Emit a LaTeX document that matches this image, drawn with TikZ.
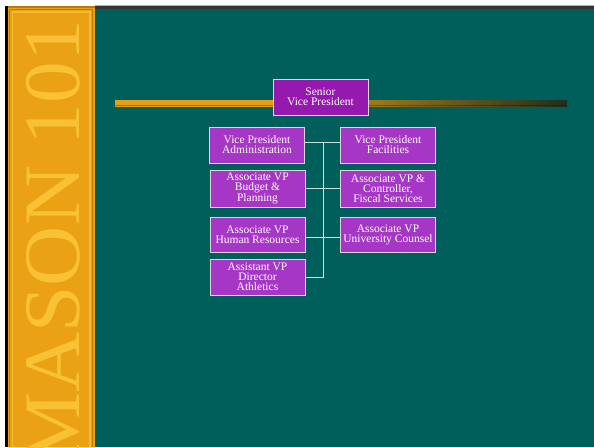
\documentclass[tikz,border=0pt]{standalone}
\usepackage{fontspec}
\setmainfont{Liberation Serif}
\usepackage{graphicx}
\definecolor{teal0}{HTML}{005F5B}
\definecolor{gold0}{HTML}{EAA214}
\definecolor{golddark}{HTML}{B97C0C}
\definecolor{goldlight}{HTML}{F6BA3A}
\definecolor{goldtext}{HTML}{F8C234}
\definecolor{barleft}{HTML}{E69E12}
\definecolor{barright}{HTML}{1F2E1E}
\definecolor{boxfill}{HTML}{A636C6}
\definecolor{seniorfill}{HTML}{9519AE}
\definecolor{boxedge}{HTML}{D8D8D8}
\definecolor{connline}{HTML}{C4E4DC}
\pgfdeclarehorizontalshading{barshade}{100bp}{color(0bp)=(barleft); color(25bp)=(barleft); color(42bp)=(barleft); color(75bp)=(barright); color(100bp)=(barright)}
\tikzset{
  orgbox/.style={draw=boxedge, line width=0.7pt, fill=boxfill, text=white,
    minimum width=95pt, minimum height=36pt, inner sep=1pt, align=center,
    font=\fontsize{11.5}{10}\selectfont},
  seniorbox/.style={orgbox, fill=seniorfill},
  conn/.style={draw=connline, line width=0.7pt}
}
\begin{document}
\begin{tikzpicture}[x=1pt,y=-1pt]
\useasboundingbox (0,0) rectangle (594,447);
% background
\fill[white] (0,0) rectangle (594,447);
\fill[teal0] (7,7) rectangle (594,447);
\fill[gray!60] (95,5) rectangle (594,6.2);
\fill[black!80] (95,6.2) rectangle (594,8.6);
% gold strip
\fill[black] (5,6) rectangle (7.5,447);
\fill[gold0] (7.5,6) rectangle (95,447);
\fill[golddark] (7.5,6) rectangle (95,7.5);
\draw[golddark, line width=1.2pt] (9.5,9.5) -- (92.5,9.5);
\draw[golddark, line width=1.2pt] (9.5,9.5) -- (9.5,447);
\draw[golddark, line width=1.2pt] (92.5,9.5) -- (92.5,447);
\draw[goldlight, line width=1.2pt] (12,12) -- (90,12) -- (90,447);
\draw[goldlight, line width=0.8pt] (12,12) -- (12,447);
\node[rotate=90, anchor=base east, inner sep=0pt, text=goldtext] (title) at (79,20)
  {\scalebox{1.04}[1]{\fontsize{80}{80}\selectfont MASON 101}};
% bar
\shade[shading=barshade] (115,100) rectangle (567,106);
\fill[black, opacity=0.3] (115,104.8) rectangle (567,106);
% boxes
\node[seniorbox] (senior) at (320.5,97) {Senior\\Vice President};
\node[orgbox] (admin) at (257,145) {Vice President\\Administration};
\node[orgbox] (fac) at (388,145) {Vice President\\Facilities};
\node[orgbox, minimum height=37pt] (budget) at (257.5,188.5) {Associate VP\\Budget \&\\Planning};
\node[orgbox, minimum height=37pt] (ctrl) at (388,188.5) {Associate VP \&\\Controller,\\Fiscal Services};
\node[orgbox, minimum height=35pt] (hr) at (257.5,234.5) {Associate VP\\Human Resources};
\node[orgbox, minimum height=35pt] (counsel) at (388,234.5) {Associate VP\\University Counsel};
\node[orgbox] (ath) at (257.5,277) {Assistant VP\\Director\\Athletics};
% connectors
\coordinate (spinetop) at (323,142);
\coordinate (spinebot) at (323,277);
\draw[conn] (admin.east |- spinetop) -- (fac.west |- spinetop);
\draw[conn] (budget.east) -- (ctrl.west);
\draw[conn] ([yshift=-2.5pt]hr.east) -- ([yshift=-2.5pt]counsel.west);
\draw[conn] (ath.east) -- (spinebot) -- (spinetop);
\end{tikzpicture}
\end{document}
